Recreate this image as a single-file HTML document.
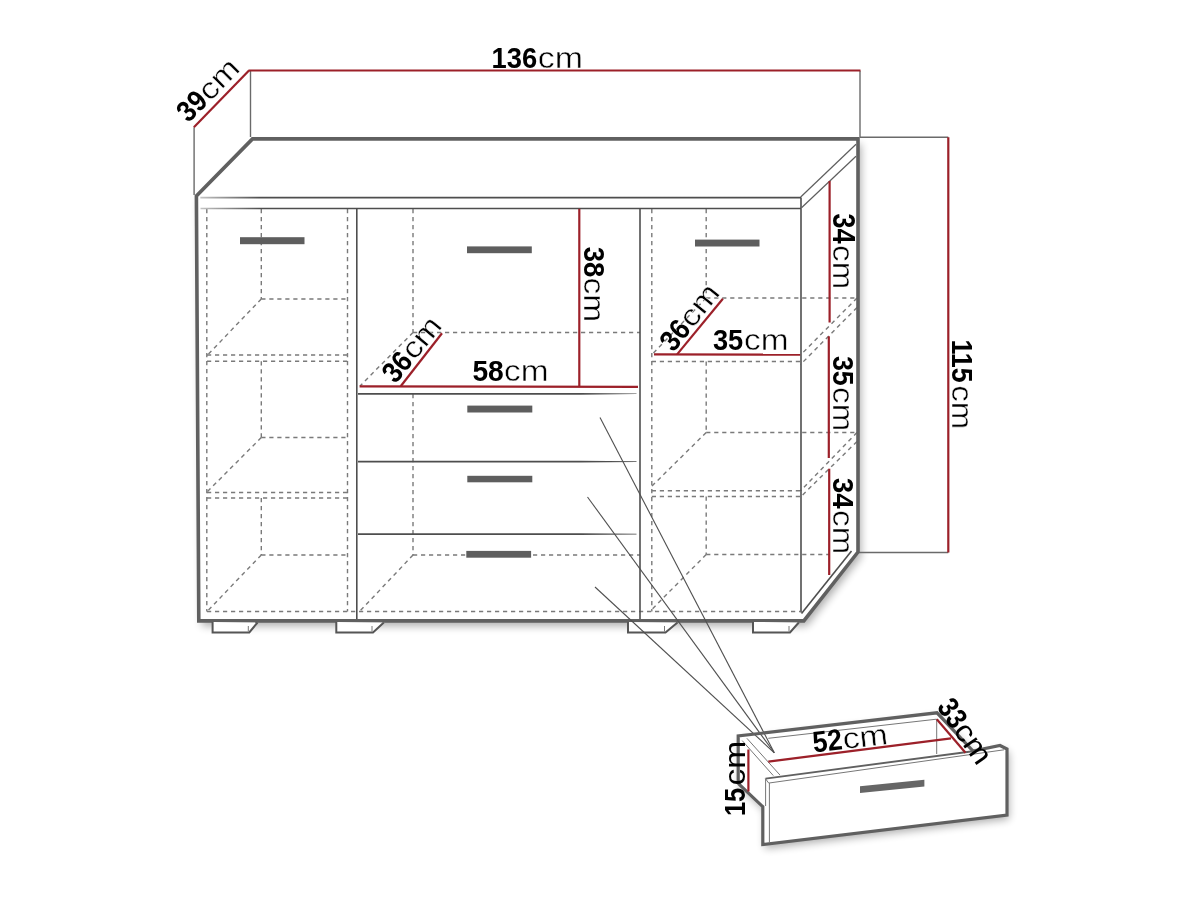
<!DOCTYPE html>
<html><head><meta charset="utf-8"><title>Sideboard dimensions</title>
<style>
html,body{margin:0;padding:0;background:#fff;}
body{width:1200px;height:900px;overflow:hidden;}
svg{display:block;}
.k{fill:none;stroke:#606060;stroke-width:3.6;stroke-linejoin:miter;}
.k2{fill:none;stroke:#606060;stroke-width:3.2;stroke-linejoin:miter;}
.t{stroke:#4e4e4e;stroke-width:1.6;}
.t2{stroke:#606060;stroke-width:1.9;}
.h{stroke:#777;stroke-width:1;}
.x{stroke:#6a6a6a;stroke-width:1.4;}
.d{stroke:#7a7a7a;stroke-width:1.4;stroke-dasharray:4.2 3.8;}
.r{stroke:#9c2029;stroke-width:2.2;}
.l{stroke:#505050;stroke-width:1.1;}
.ft{fill:#fff;stroke:#555;stroke-width:2;}
.wf{fill:#fff;stroke:none;}
.sh{fill:#000;stroke:none;}
.hl{stroke:#8a8a8a;stroke-width:1;}
.hm{stroke:#707070;stroke-width:1.4;}
.tp{fill:#4e4e4e;stroke:none;}
.hd{stroke:#5e5e5e;stroke-width:1.2;}
.hf{fill:#666;}
text{font-family:"Liberation Sans",sans-serif;fill:#000;opacity:0.995;}
.b{font-weight:bold;}
.c{stroke:#fff;stroke-width:0.45px;}
</style></head><body>
<svg width="1200" height="900" viewBox="0 0 1200 900">
<defs>
<filter id="blur" x="-10%" y="-10%" width="120%" height="120%"><feGaussianBlur stdDeviation="4.2"/></filter>
<linearGradient id="gL" gradientUnits="userSpaceOnUse" x1="200" y1="0" x2="260" y2="0"><stop offset="0" stop-color="#c4c4c4"/><stop offset="1" stop-color="#4e4e4e"/></linearGradient>
<linearGradient id="shB" x1="0" y1="0" x2="0" y2="1"><stop offset="0" stop-color="#000" stop-opacity="0.10"/><stop offset="1" stop-color="#000" stop-opacity="0"/></linearGradient>
<linearGradient id="shR" x1="0" y1="0" x2="1" y2="0"><stop offset="0" stop-color="#000" stop-opacity="0.10"/><stop offset="1" stop-color="#000" stop-opacity="0"/></linearGradient>
<linearGradient id="shD" x1="0" y1="0" x2="0" y2="1"><stop offset="0" stop-color="#000" stop-opacity="0.12"/><stop offset="1" stop-color="#000" stop-opacity="0"/></linearGradient>
</defs>
<rect width="1200" height="900" fill="#fff"/>
<g filter="url(#blur)" opacity="0.32">
<polygon class="sh" points="199.4,201 255.5,144 861,144 861,557 806.8,625.9 201.8,625.9"/>
<polygon class="sh" points="740.2,740 939,716.8 975,755 1002,749.5 1009,753 1009,819 764.8,848.5 764.8,810.7 740.2,787.3"/>
</g>
<polygon class="wf" points="196.4,196 252.5,139 858,139 858,552 803.8,620.9 198.8,620.9"/>
<polygon class="wf" points="738.2,736 937,712.8 973,751 1000,745.5 1007,749 1007,815 762.8,844.5 762.8,806.7 738.2,783.3"/>
<line class="x" x1="250.5" y1="71" x2="250.5" y2="137"/>
<line class="x" x1="860" y1="70.7" x2="860" y2="137.3"/>
<line class="x" x1="194.1" y1="127.2" x2="194.1" y2="195"/>
<line class="x" x1="860" y1="137.3" x2="948.3" y2="137.3"/>
<line class="x" x1="857" y1="552.5" x2="948.3" y2="552.5"/>
<line class="d" x1="206.8" y1="209" x2="206.8" y2="611.5"/>
<line class="d" x1="347.5" y1="209" x2="347.5" y2="611.5"/>
<line class="d" x1="261.3" y1="209" x2="261.3" y2="299"/>
<line class="d" x1="261.3" y1="299" x2="347.5" y2="299"/>
<line class="d" x1="261.3" y1="299" x2="207.5" y2="355"/>
<line class="d" x1="207" y1="355" x2="347.5" y2="355"/>
<line class="d" x1="207" y1="361.3" x2="347.5" y2="361.3"/>
<line class="d" x1="261.3" y1="361.3" x2="261.3" y2="437.5"/>
<line class="d" x1="261.3" y1="437.5" x2="347.5" y2="437.5"/>
<line class="d" x1="261.3" y1="437.5" x2="207.5" y2="491.5"/>
<line class="d" x1="207" y1="492.5" x2="347.5" y2="492.5"/>
<line class="d" x1="207" y1="498" x2="347.5" y2="498"/>
<line class="d" x1="261.3" y1="498" x2="261.3" y2="555"/>
<line class="d" x1="261.3" y1="555" x2="347.5" y2="555"/>
<line class="d" x1="261.3" y1="555" x2="207.5" y2="611"/>
<line class="d" x1="207" y1="611.5" x2="800" y2="611.5"/>
<line class="d" x1="413" y1="209" x2="413" y2="332.5"/>
<line class="d" x1="413" y1="332.5" x2="640" y2="332.5"/>
<line class="d" x1="413" y1="332.5" x2="360" y2="386"/>
<line class="d" x1="413" y1="394" x2="413" y2="555"/>
<line class="d" x1="413" y1="555" x2="640" y2="555"/>
<line class="d" x1="413" y1="555" x2="360" y2="611"/>
<line class="d" x1="651.8" y1="209" x2="651.8" y2="611.5"/>
<line class="d" x1="706.2" y1="209" x2="706.2" y2="298"/>
<line class="d" x1="706.2" y1="298" x2="857" y2="298"/>
<line class="d" x1="706.2" y1="298" x2="652" y2="354.5"/>
<line class="d" x1="651.8" y1="361.5" x2="800.5" y2="361.5"/>
<line class="d" x1="706.2" y1="361.5" x2="706.2" y2="432.5"/>
<line class="d" x1="706.2" y1="432.5" x2="857" y2="432.5"/>
<line class="d" x1="706.2" y1="432.5" x2="652" y2="486"/>
<line class="d" x1="651.8" y1="490.8" x2="800.5" y2="490.8"/>
<line class="d" x1="651.8" y1="496.5" x2="800.5" y2="496.5"/>
<line class="d" x1="706.2" y1="496.5" x2="706.2" y2="554.5"/>
<line class="d" x1="706.2" y1="554.5" x2="830" y2="554.5"/>
<line class="d" x1="706.2" y1="554.5" x2="652.5" y2="608.8"/>
<line class="d" x1="857" y1="298" x2="800.5" y2="355"/>
<line class="d" x1="857" y1="307.5" x2="800.5" y2="364.5"/>
<line class="d" x1="857" y1="432.5" x2="800.5" y2="490.8"/>
<line class="d" x1="857" y1="441.5" x2="800.5" y2="497"/>
<line x1="200.3" y1="197.6" x2="801" y2="197.6" stroke="url(#gL)" stroke-width="1.6"/>
<line x1="200.5" y1="208.5" x2="801" y2="208.5" stroke="url(#gL)" stroke-width="1.6"/>
<line class="t" x1="801" y1="197.6" x2="801" y2="208.5"/>
<line class="hd" x1="856" y1="144.2" x2="800.7" y2="197"/>
<line class="hd" x1="856" y1="156.2" x2="801.5" y2="207.8"/>
<line class="t" x1="356.8" y1="208.8" x2="356.8" y2="621"/>
<line class="t" x1="640" y1="208.8" x2="640" y2="621"/>
<line class="t" x1="801" y1="208.3" x2="801" y2="612.5"/>
<polygon class="tp" points="358,392.95 580,392.95 636.5,393.5 636.5,394.1 580,394.65 358,394.65"/>
<polygon class="tp" points="358,460.75 580,460.75 636.5,461.3 636.5,461.9 580,462.45 358,462.45"/>
<polygon class="tp" points="358,533.25 580,533.25 636.5,533.8 636.5,534.4 580,534.95 358,534.95"/>
<line class="t" x1="851.5" y1="551" x2="801.5" y2="613.5"/>
<polygon class="k" points="198.8,620.9 196.4,196 252.5,138.9 858,138.9 858,552 803.8,620.9"/>
<polyline class="ft" points="212.6,622 212.6,632.5 249.3,632.5 257.5,622.5"/>
<line class="h" x1="248.3" y1="626" x2="248.3" y2="631.5"/>
<polyline class="ft" points="336.3,622 336.3,632.5 373,632.5 383.8,622.5"/>
<line class="h" x1="372" y1="626" x2="372" y2="631.5"/>
<polyline class="ft" points="628,622 628,632.5 665.5,632.5 677.5,622.5"/>
<line class="h" x1="664.5" y1="626" x2="664.5" y2="631.5"/>
<polyline class="ft" points="753,622 753,632.5 790,632.5 798.8,622.5"/>
<line class="h" x1="789" y1="626" x2="789" y2="631.5"/>
<rect x="240" y="237.2" width="64.5" height="7" fill="#5e5e5e"/>
<rect x="467" y="246.4" width="64.8" height="6.8" fill="#5e5e5e"/>
<rect x="467.3" y="405.6" width="65" height="6.9" fill="#5e5e5e"/>
<rect x="467.3" y="475.8" width="65" height="6.5" fill="#5e5e5e"/>
<rect x="466.3" y="550.9" width="64.8" height="6.8" fill="#5e5e5e"/>
<rect x="695" y="239.6" width="64.5" height="6.9" fill="#5e5e5e"/>
<line class="r" x1="193.9" y1="127.2" x2="249" y2="70.5"/>
<line class="r" x1="248.5" y1="70.5" x2="860.5" y2="70.5"/>
<line class="r" x1="948.3" y1="137.3" x2="948.3" y2="552.5"/>
<line class="r" x1="579.3" y1="208.8" x2="579.3" y2="387"/>
<line class="r" x1="359.6" y1="386.3" x2="638" y2="386.9"/>
<line class="r" x1="400.7" y1="386.2" x2="442" y2="333.3"/>
<line class="r" x1="654" y1="354.4" x2="800.2" y2="354.6"/>
<line class="r" x1="677.1" y1="354.4" x2="722.9" y2="298.8"/>
<line class="r" x1="829.6" y1="181" x2="829.6" y2="322.5"/>
<line class="r" x1="828.8" y1="336.3" x2="828.8" y2="458"/>
<line class="r" x1="829.2" y1="468.7" x2="829.2" y2="575"/>
<line class="l" x1="600" y1="417.5" x2="774.3" y2="752.8"/>
<line class="l" x1="587.5" y1="497" x2="774.3" y2="752.8"/>
<line class="l" x1="595" y1="587" x2="774.3" y2="752.8"/>
<polygon class="wf" points="765.5,779 1000,745.5 1007,748.3 1007,815 763,844.5"/>
<polyline class="k2" points="738.2,783.3 738.2,736 937,712.8 973,751 1000,745.5 1007,749 1007,815 762.8,844.5 762.8,806.7 738.2,783.3"/>
<line class="h" x1="742.2" y1="740.6" x2="773.3" y2="775.6"/>
<line class="h" x1="746.9" y1="738.3" x2="780" y2="775.1"/>
<line class="h" x1="765.3" y1="778.5" x2="768.9" y2="783.3"/>
<line class="h" x1="768.3" y1="738.3" x2="936.5" y2="719.2"/>
<line class="h" x1="936.7" y1="719" x2="936.7" y2="754"/>
<line class="t2" x1="765.5" y1="778.6" x2="973" y2="751.2"/>
<line class="h" x1="769.2" y1="783" x2="1004" y2="749.8"/>
<line class="h" x1="765.6" y1="779" x2="765.6" y2="806"/>
<line class="h" x1="769.4" y1="782.8" x2="769.4" y2="842.5"/>
<line class="r" x1="748.4" y1="749.5" x2="748.4" y2="791.5"/>
<line class="r" x1="768.3" y1="761.7" x2="951" y2="738.3"/>
<line class="r" x1="936.8" y1="719.2" x2="965.5" y2="752.8"/>
<polygon class="hf" points="860,786.2 924.4,779.8 924.4,786.6 860,793"/>
<g transform="translate(493.3,67.8) rotate(0)">
<text class="b" font-size="28.99" transform="translate(-1.72,0) scale(0.9430,1)">136</text>
<text class="c" font-size="30.01" transform="translate(44.46,0) scale(1.1321,1)">cm</text>
</g>
<g transform="translate(473.25,380.9) rotate(0)">
<text class="b" font-size="28.92" transform="translate(-0.87,0) scale(0.9758,1)">58</text>
<text class="c" font-size="28.88" transform="translate(30.83,0) scale(1.1564,1)">cm</text>
</g>
<g transform="translate(713.6,350.4) rotate(0)">
<text class="b" font-size="29.57" transform="translate(-0.62,0) scale(0.9208,1)">35</text>
<text class="c" font-size="28.69" transform="translate(30.48,0) scale(1.1639,1)">cm</text>
</g>
<g transform="translate(584,247.5) rotate(90)">
<text class="b" font-size="30.29" transform="translate(-0.63,0) scale(0.9045,1)">38</text>
<text class="c" font-size="30.01" transform="translate(30.08,0) scale(1.1157,1)">cm</text>
</g>
<g transform="translate(832.5,213.8) rotate(90)">
<text class="b" font-size="30.72" transform="translate(-0.63,0) scale(0.8919,1)">34</text>
<text class="c" font-size="30.01" transform="translate(31.3,0) scale(1.1021,1)">cm</text>
</g>
<g transform="translate(832.5,356.5) rotate(90)">
<text class="b" font-size="30.29" transform="translate(-0.62,0) scale(0.8865,1)">35</text>
<text class="c" font-size="30.01" transform="translate(30.6,0) scale(1.1021,1)">cm</text>
</g>
<g transform="translate(832.5,478.5) rotate(90)">
<text class="b" font-size="30.29" transform="translate(-0.64,0) scale(0.9138,1)">34</text>
<text class="c" font-size="30.01" transform="translate(31.6,0) scale(1.1021,1)">cm</text>
</g>
<g transform="translate(952.2,341.1) rotate(90)">
<text class="b" font-size="29.71" transform="translate(-1.68,0) scale(0.9003,1)">115</text>
<text class="c" font-size="29.07" transform="translate(44.2,0) scale(1.1377,1)">cm</text>
</g>
<g transform="translate(744.8,814.5) rotate(-90)">
<text class="b" font-size="29.28" transform="translate(-1.6,0) scale(0.8694,1)">15</text>
<text class="c0" font-size="29.63" transform="translate(29.08,0) scale(1.1299,1)">cm</text>
</g>
<g transform="translate(189,123) rotate(-45.28)">
<text class="b" font-size="29.57" transform="translate(-0.61,0) scale(0.8933,1)">39</text>
<text class="c" font-size="29.44" transform="translate(29.35,0) scale(1.1561,1)">cm</text>
</g>
<g transform="translate(395.8,384) rotate(-50.48)">
<text class="b" font-size="29.57" transform="translate(-0.61,0) scale(0.8940,1)">36</text>
<text class="c" font-size="29.44" transform="translate(29.39,0) scale(1.1581,1)">cm</text>
</g>
<g transform="translate(674,352.5) rotate(-51.43)">
<text class="b" font-size="29.57" transform="translate(-0.61,0) scale(0.9029,1)">36</text>
<text class="c" font-size="29.44" transform="translate(29.65,0) scale(1.1696,1)">cm</text>
</g>
<g transform="translate(814.5,752.4) rotate(-6.5)">
<text class="b" font-size="29.57" transform="translate(-0.82,0) scale(0.9023,1)">52</text>
<text class="c" font-size="29.44" transform="translate(29.34,0) scale(1.1559,1)">cm</text>
</g>
<g transform="translate(936.5,707.5) rotate(55.18)">
<text class="b" font-size="29.57" transform="translate(-0.58,0) scale(0.8612,1)">33</text>
<text class="c0" font-size="29.44" transform="translate(28.42,0) scale(1.1156,1)">cm</text>
</g>
</svg>
</body></html>
